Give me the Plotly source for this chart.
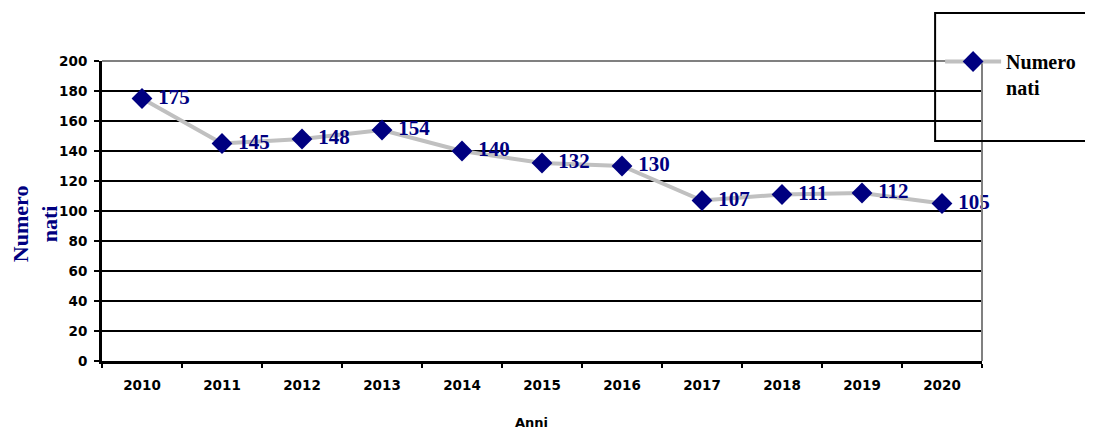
import plotly.graph_objects as go

years = ["2010", "2011", "2012", "2013", "2014", "2015", "2016", "2017", "2018", "2019", "2020"]
births = [175, 145, 148, 154, 140, 132, 130, 107, 111, 112, 105]
series_name = "Numero<br>nati"
y_ticks = [0, 20, 40, 60, 80, 100, 120, 140, 160, 180, 200]

NAVY = "#000080"
SERIF = "Liberation Serif"
SANS = "DejaVu Sans"

fig = go.Figure()
fig.add_trace(go.Scatter(
    x=years, y=births, name=series_name,
    mode="lines+markers+text",
    line=dict(color="#C0C0C0", width=4),
    marker=dict(symbol="diamond", size=16, color=NAVY),
    texttemplate="\u00a0%{y}",
    textposition="middle right",
    textfont=dict(family=SERIF, size=21, color=NAVY, weight="bold"),
    cliponaxis=False,
))

# page body has an 8px margin; size the figure to fill the rest of the window
OFF = 8
W, H = 1093 - OFF, 429 - OFF
L, R, T, B = 94, 109, 53, 68
pw, ph = W - L - R, H - T - B

def px(x):  # screen x -> paper
    return (x - OFF - L) / pw

def py(y):  # screen y -> paper
    return (H - B - (y - OFF)) / ph

fig.update_layout(
    width=W, height=H,
    margin=dict(l=L, r=R, t=T, b=B),
    paper_bgcolor="white", plot_bgcolor="white",
    showlegend=True,
    legend=dict(
        x=px(942), y=py(42), xanchor="left", yanchor="top",
        bgcolor="rgba(0,0,0,0)", borderwidth=0, valign="top",
        font=dict(family=SERIF, size=20, color="black", weight="bold"),
        itemwidth=56,
    ),
    xaxis=dict(
        type="category", range=[-0.5, 10.5],
        showgrid=False, showline=True, linecolor="black", linewidth=3,
        ticks="outside", tickson="boundaries", ticklen=4, tickwidth=2, tickcolor="black",
        ticklabelstandoff=10,
        tickfont=dict(family=SANS, size=13.5, color="black", weight="bold"),
    ),
    yaxis=dict(
        range=[0, 200], tickvals=y_ticks,
        showgrid=True, gridcolor="black", gridwidth=2,
        zeroline=False,
        showline=True, linecolor="black", linewidth=3,
        ticks="outside", ticklen=5, tickwidth=2, tickcolor="black",
        ticklabelstandoff=4,
        tickfont=dict(family=SANS, size=13.5, color="black", weight="bold"),
    ),
    annotations=[
        dict(
            text="Numero<br>nati", textangle=-90, showarrow=False,
            xref="paper", yref="paper", x=px(35), y=py(224),
            xanchor="center", yanchor="middle",
            font=dict(family=SERIF, size=22, color=NAVY, weight="bold"),
        ),
        dict(
            text="Anni", showarrow=False,
            xref="paper", yref="paper", x=px(532), y=py(422),
            xanchor="center", yanchor="middle",
            font=dict(family=SANS, size=13, color="black", weight="bold"),
        ),
    ],
    shapes=[
        dict(type="line", xref="paper", yref="paper", x0=0, x1=1, y0=1, y1=1,
             line=dict(color="#808080", width=2)),
        dict(type="line", xref="paper", yref="paper", x0=1, x1=1, y0=0, y1=1,
             line=dict(color="#808080", width=2)),
        dict(type="rect", xref="paper", yref="paper",
             x0=px(937), x1=px(1100), y0=py(141), y1=py(13),
             line=dict(color="black", width=2), fillcolor="rgba(0,0,0,0)"),
    ],
)

fig.write_html("out.html")
